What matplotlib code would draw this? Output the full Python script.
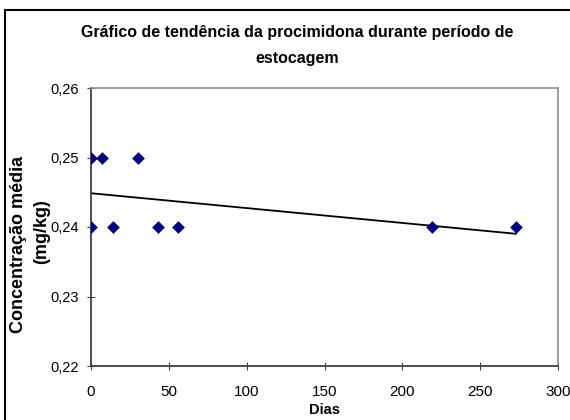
import matplotlib
matplotlib.use("Agg")
import matplotlib.pyplot as plt
import numpy as np
from matplotlib.patches import Rectangle
from matplotlib.ticker import FuncFormatter

plt.rcParams['font.family'] = ['Liberation Sans', 'DejaVu Sans']

dias = [0, 0, 7, 14, 30, 43, 56, 219, 273]
concentracao = [0.25, 0.24, 0.25, 0.24, 0.25, 0.24, 0.24, 0.24, 0.24]
x_ticks = [0, 50, 100, 150, 200, 250, 300]
y_ticks = [0.22, 0.23, 0.24, 0.25, 0.26]

fig = plt.figure(figsize=(5.7, 4.2), dpi=100)
ax = fig.add_axes([91/570, 54/420, (558-91)/570, (366-88)/420])

ax.scatter(dias, concentracao, marker='D', s=42, color='#000080', zorder=3, linewidths=0)

coef = np.polyfit(dias, concentracao, 1)
xl = np.array([min(dias), max(dias)])
ax.plot(xl, np.polyval(coef, xl), color='black', lw=1.3, zorder=2)

ax.set_xlim(0, 300)
ax.set_ylim(0.22, 0.26)
ax.set_xticks(x_ticks)
ax.set_yticks(y_ticks)
ax.yaxis.set_major_formatter(FuncFormatter(lambda v, p: f"{v:.2f}".replace('.', ',')))
ax.tick_params(axis='both', direction='inout', length=6, color='#404040')
ax.tick_params(axis='y', labelsize=10.5, pad=6)
ax.tick_params(axis='x', labelsize=11, pad=11)
for s in ['left', 'bottom']:
    ax.spines[s].set_color('#404040')
    ax.spines[s].set_linewidth(1.3)
for s in ['top', 'right']:
    ax.spines[s].set_color('#909090')
    ax.spines[s].set_linewidth(1.2)

fig.text(297/570, 1-33/420, "Gráfico de tendência da procimidona durante período de",
         ha='center', va='center', fontsize=11.5, fontweight='bold')
fig.text(297/570, 1-59/420, "estocagem", ha='center', va='center', fontsize=11.5, fontweight='bold')
fig.text(19/570, 1-244/420, "Concentração média", rotation=90, ha='center', va='center',
         fontsize=13, fontweight='bold')
fig.text(42/570, 1-232/420, "(mg/kg)", rotation=90, ha='center', va='center',
         fontsize=13, fontweight='bold')
fig.text(325/570, 1-410/420, "Dias", ha='center', va='center', fontsize=10.5, fontweight='bold')

fig.patches.append(Rectangle((5/570, -0.1), 1.2, 1-10/420+0.1, transform=fig.transFigure,
                             fill=False, edgecolor='black', lw=1.5))

fig.savefig("out.png", dpi=100)
